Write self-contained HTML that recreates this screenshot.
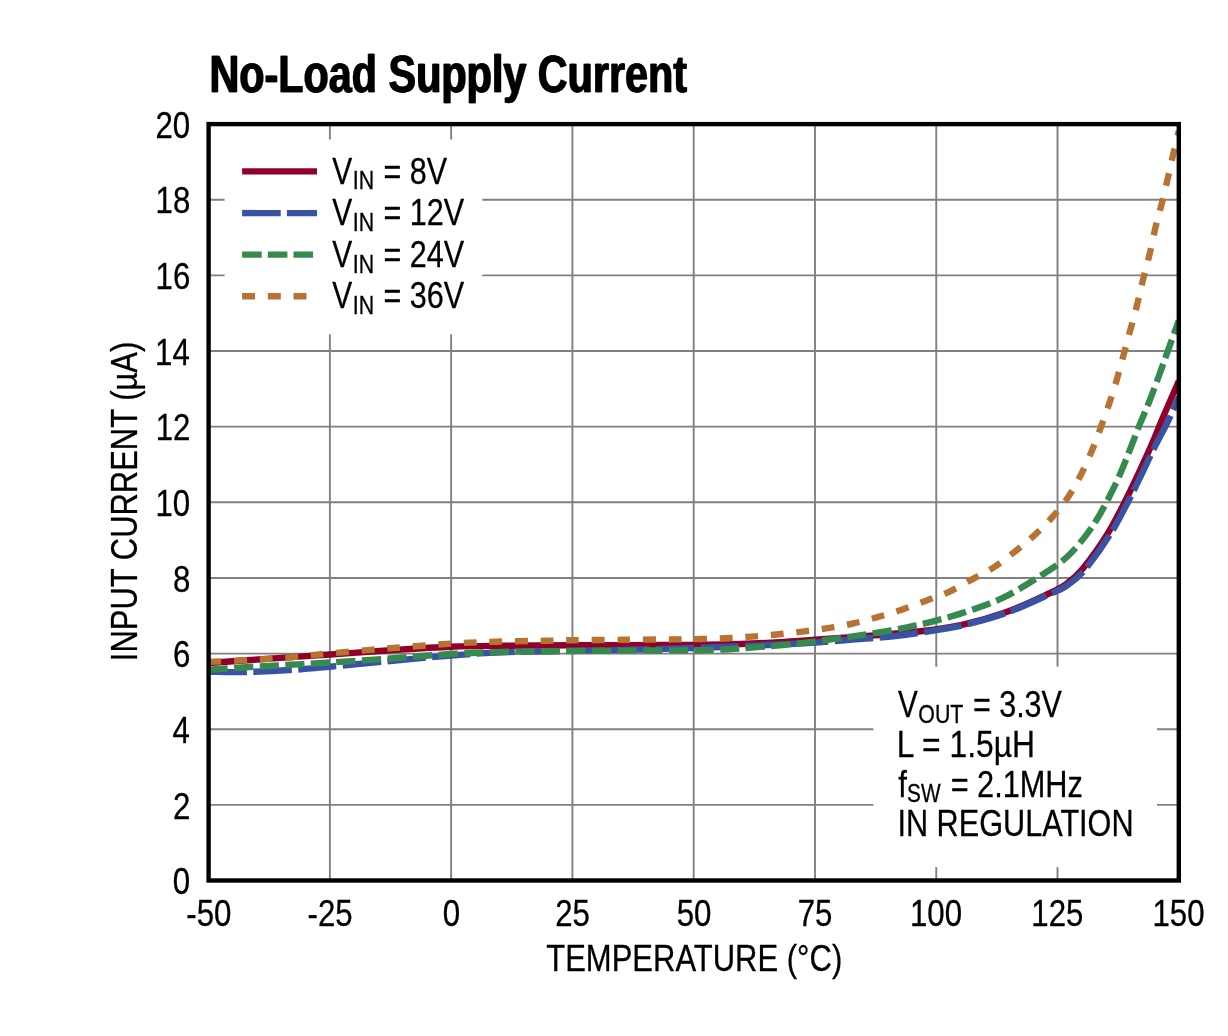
<!DOCTYPE html>
<html><head><meta charset="utf-8"><title>No-Load Supply Current</title>
<style>
html,body{margin:0;padding:0;background:#fff;}
body{width:1228px;height:1036px;overflow:hidden;font-family:"Liberation Sans",sans-serif;}
svg{display:block;will-change:transform;}
text{white-space:pre;}
</style></head><body>
<svg width="1228" height="1036" viewBox="0 0 1228 1036">
<rect width="1228" height="1036" fill="#fff"/>
<g stroke="#808080" stroke-width="1.9" fill="none">
<line x1="329.88" y1="124.1" x2="329.88" y2="880.5"/>
<line x1="451.15" y1="124.1" x2="451.15" y2="880.5"/>
<line x1="572.42" y1="124.1" x2="572.42" y2="880.5"/>
<line x1="693.70" y1="124.1" x2="693.70" y2="880.5"/>
<line x1="814.98" y1="124.1" x2="814.98" y2="880.5"/>
<line x1="936.25" y1="124.1" x2="936.25" y2="880.5"/>
<line x1="1057.52" y1="124.1" x2="1057.52" y2="880.5"/>
<line x1="208.6" y1="199.74" x2="1178.8" y2="199.74"/>
<line x1="208.6" y1="275.38" x2="1178.8" y2="275.38"/>
<line x1="208.6" y1="351.02" x2="1178.8" y2="351.02"/>
<line x1="208.6" y1="426.66" x2="1178.8" y2="426.66"/>
<line x1="208.6" y1="502.30" x2="1178.8" y2="502.30"/>
<line x1="208.6" y1="577.94" x2="1178.8" y2="577.94"/>
<line x1="208.6" y1="653.58" x2="1178.8" y2="653.58"/>
<line x1="208.6" y1="729.22" x2="1178.8" y2="729.22"/>
<line x1="208.6" y1="804.86" x2="1178.8" y2="804.86"/>
</g>
<clipPath id="cp"><rect x="208.6" y="124.1" width="970.1999999999999" height="756.4"/></clipPath>
<g clip-path="url(#cp)" fill="none" stroke-width="6.4">
<path d="M208.6,663.0 C218.8,662.3 249.8,660.0 270.0,658.6 C290.2,657.2 310.0,655.9 330.0,654.5 C350.0,653.1 369.8,651.6 390.0,650.3 C410.2,649.0 432.4,647.5 451.2,646.8 C470.0,646.0 482.8,646.0 503.0,645.8 C523.2,645.5 551.2,645.4 572.4,645.3 C593.6,645.2 609.8,645.2 630.0,645.1 C650.2,645.0 675.2,645.1 693.7,644.9 C712.2,644.7 726.4,644.5 740.8,644.0 C755.2,643.5 767.6,642.9 780.0,642.2 C792.4,641.5 799.3,640.9 815.0,639.8 C830.7,638.7 856.6,636.8 874.2,635.4 C891.8,634.0 905.8,633.1 920.8,631.3 C935.8,629.4 949.7,627.5 964.0,624.3 C978.3,621.1 992.5,617.0 1006.5,612.0 C1020.5,607.0 1038.0,598.6 1047.9,594.0 C1057.8,589.4 1060.1,588.6 1065.9,584.4 C1071.7,580.1 1075.8,577.2 1082.9,568.5 C1090.0,559.8 1100.6,545.1 1108.4,532.4 C1116.2,519.6 1122.6,506.3 1129.7,492.0 C1136.8,477.7 1145.6,458.3 1150.9,446.4 C1156.2,434.5 1156.8,431.7 1161.5,420.8 C1166.2,409.9 1175.9,387.6 1178.8,381.0" stroke="#900029"/>
<path d="M208.6,671.8 C214.7,671.8 231.4,672.3 245.0,672.0 C258.6,671.7 275.8,670.9 290.0,670.0 C304.2,669.1 313.3,668.2 330.0,666.7 C346.7,665.2 369.8,662.9 390.0,661.0 C410.2,659.1 432.3,657.0 451.2,655.5 C470.1,654.0 483.3,653.1 503.5,652.3 C523.7,651.5 549.6,651.3 572.4,650.8 C595.1,650.3 619.8,650.0 640.0,649.5 C660.2,649.0 678.3,648.5 693.7,648.0 C709.1,647.5 717.9,647.2 732.3,646.6 C746.7,646.0 766.2,645.2 780.0,644.5 C793.8,643.8 802.5,643.5 815.0,642.6 C827.5,641.8 841.7,640.5 855.1,639.4 C868.5,638.3 882.3,637.5 895.4,636.0 C908.5,634.5 922.1,632.4 933.5,630.6 C944.9,628.8 951.8,628.0 964.0,625.0 C976.2,622.0 992.5,617.8 1006.5,612.8 C1020.5,607.8 1037.8,599.5 1047.9,595.0 C1058.0,590.5 1060.8,589.8 1067.0,585.5 C1073.2,581.2 1077.7,578.2 1085.0,569.5 C1092.3,560.8 1103.0,545.9 1111.0,533.0 C1119.0,520.1 1125.7,506.4 1133.0,492.0 C1140.3,477.6 1149.4,457.7 1155.0,446.4 C1160.6,435.1 1162.6,432.4 1166.6,424.2 C1170.6,416.0 1176.8,401.5 1178.8,397.0" stroke="#3953A4" stroke-dasharray="38.4 6.4"/>
<path d="M208.6,669.7 C215.5,669.2 236.4,667.8 250.0,667.0 C263.6,666.2 276.7,665.5 290.0,664.8 C303.3,664.0 313.3,663.5 330.0,662.5 C346.7,661.5 369.8,659.9 390.0,658.5 C410.2,657.1 432.3,655.1 451.2,654.0 C470.1,652.9 487.0,652.4 503.5,651.9 C520.0,651.4 538.5,651.4 550.0,651.2 C561.5,651.1 559.1,651.1 572.4,651.0 C585.7,650.9 609.8,650.7 630.0,650.6 C650.2,650.5 677.2,650.4 693.7,650.2 C710.2,650.0 719.1,649.8 729.2,649.3 C739.4,648.8 746.1,648.1 754.6,647.4 C763.1,646.7 771.5,646.1 780.0,645.3 C788.5,644.5 796.9,643.6 805.4,642.6 C813.9,641.6 822.3,640.5 830.8,639.4 C839.3,638.3 847.7,637.0 856.2,635.8 C864.7,634.6 873.1,633.4 881.6,632.0 C890.1,630.6 898.7,629.0 907.0,627.3 C915.3,625.6 922.2,624.2 931.4,621.8 C940.5,619.4 950.1,617.0 961.9,613.1 C973.7,609.2 989.1,604.4 1002.2,598.2 C1015.3,592.0 1029.8,582.6 1040.4,575.9 C1051.0,569.2 1058.5,564.4 1065.9,557.9 C1073.3,551.4 1079.3,543.9 1085.0,536.6 C1090.7,529.3 1094.9,522.8 1099.9,514.3 C1104.9,505.8 1110.5,494.5 1114.8,485.7 C1119.0,476.9 1121.5,470.9 1125.4,461.2 C1129.4,451.5 1134.5,437.7 1138.5,427.6 C1142.5,417.5 1146.2,409.5 1149.7,400.5 C1153.2,391.5 1156.7,381.9 1159.8,373.5 C1162.9,365.1 1165.0,358.7 1168.2,349.9 C1171.4,341.1 1177.0,325.4 1178.8,320.5" stroke="#378A4F" stroke-dasharray="19.2 6.4"/>
<path d="M208.6,661.9 C215.5,661.6 236.4,660.8 250.0,660.0 C263.6,659.2 276.7,658.5 290.0,657.4 C303.3,656.3 313.3,654.9 330.0,653.4 C346.7,651.9 369.8,649.9 390.0,648.3 C410.2,646.7 433.5,644.7 451.2,643.6 C468.9,642.5 480.2,642.2 496.1,641.7 C512.1,641.2 534.2,641.0 546.9,640.7 C559.6,640.5 559.5,640.4 572.4,640.2 C585.3,640.1 607.1,639.9 624.2,639.8 C641.3,639.7 662.3,639.5 675.0,639.4 C687.7,639.3 692.1,639.2 700.6,639.0 C709.1,638.8 717.5,638.7 726.0,638.3 C734.5,637.9 742.9,637.2 751.4,636.6 C759.9,636.0 768.3,635.3 776.8,634.5 C785.3,633.7 793.7,632.6 802.2,631.6 C810.7,630.6 819.1,629.6 827.6,628.2 C836.1,626.9 844.7,625.3 853.0,623.5 C861.3,621.7 869.3,619.5 877.4,617.2 C885.5,614.9 893.6,612.5 901.7,609.8 C909.8,607.0 918.2,603.7 926.1,600.7 C934.0,597.7 941.4,595.4 949.1,591.8 C956.8,588.2 965.1,583.2 972.5,579.1 C979.9,575.0 986.6,572.0 993.7,567.4 C1000.8,562.8 1008.3,556.8 1015.0,551.5 C1021.7,546.2 1027.8,541.3 1034.0,535.6 C1040.2,529.9 1046.3,523.9 1052.0,517.5 C1057.7,511.1 1063.2,504.4 1068.0,497.3 C1072.8,490.2 1076.8,482.8 1080.8,475.0 C1084.8,467.2 1088.7,458.3 1092.0,450.4 C1095.3,442.5 1097.9,435.4 1100.7,427.6 C1103.5,419.9 1106.4,411.8 1109.1,403.9 C1111.8,396.0 1114.2,388.5 1116.6,380.3 C1119.0,372.1 1121.3,363.3 1123.6,354.9 C1125.9,346.4 1128.1,338.0 1130.4,329.6 C1132.7,321.2 1135.1,312.8 1137.2,304.3 C1139.3,295.9 1141.1,287.3 1143.2,278.9 C1145.3,270.4 1147.6,262.3 1149.7,253.6 C1151.8,244.9 1153.7,234.8 1155.7,226.6 C1157.7,218.4 1159.5,212.5 1161.5,204.6 C1163.5,196.7 1165.6,187.8 1167.6,179.3 C1169.6,170.9 1171.4,162.0 1173.3,153.9 C1175.2,145.8 1177.9,134.8 1178.8,131.0" stroke="#B87333" stroke-dasharray="12.8 12.8"/>
</g>
<rect x="224.6" y="139.5" width="257.7" height="194.8" fill="#fff"/>
<rect x="873.4" y="666.7" width="283.6" height="200.4" fill="#fff"/>
<rect x="208.6" y="124.1" width="970.20" height="756.40" fill="none" stroke="#000" stroke-width="4.4"/>
<g fill="none" stroke-width="6.4">
<line x1="242.1" y1="171.4" x2="317" y2="171.4" stroke="#900029"/>
<line x1="242.1" y1="213.1" x2="317" y2="213.1" stroke="#3953A4" stroke-dasharray="38.6 6.2"/>
<line x1="242.1" y1="254.6" x2="317" y2="254.6" stroke="#378A4F" stroke-dasharray="19.6 6.1"/>
<line x1="242.1" y1="296.2" x2="317" y2="296.2" stroke="#B87333" stroke-dasharray="13 12.7"/>
</g>
<g font-family="&quot;Liberation Sans&quot;, sans-serif" fill="#000" stroke="#000" stroke-width="0.3" stroke-linejoin="round">
<text transform="translate(208.91,91.90) scale(0.7906,1)" font-size="52.3" font-weight="bold">No-Load Supply Current</text>
<text transform="translate(210.01,91.90) scale(0.7906,1)" font-size="52.3" font-weight="bold">No-Load Supply Current</text>
<text transform="translate(155.41,137.80) scale(0.8250,1)" font-size="37.8">20</text>
<text transform="translate(155.57,213.44) scale(0.8250,1)" font-size="37.8">18</text>
<text transform="translate(155.57,289.08) scale(0.8250,1)" font-size="37.8">16</text>
<text transform="translate(155.07,364.72) scale(0.8250,1)" font-size="37.8">14</text>
<text transform="translate(155.74,440.36) scale(0.8250,1)" font-size="37.8">12</text>
<text transform="translate(155.41,516.00) scale(0.8250,1)" font-size="37.8">10</text>
<text transform="translate(172.90,591.64) scale(0.8250,1)" font-size="37.8">8</text>
<text transform="translate(172.90,667.28) scale(0.8250,1)" font-size="37.8">6</text>
<text transform="translate(172.40,742.92) scale(0.8250,1)" font-size="37.8">4</text>
<text transform="translate(173.06,818.56) scale(0.8250,1)" font-size="37.8">2</text>
<text transform="translate(172.73,894.20) scale(0.8250,1)" font-size="37.8">0</text>
<text transform="translate(186.30,926.00) scale(0.8250,1)" font-size="37.8">-50</text>
<text transform="translate(307.61,926.00) scale(0.8250,1)" font-size="37.8">-25</text>
<text transform="translate(442.79,926.00) scale(0.8250,1)" font-size="37.8">0</text>
<text transform="translate(555.23,926.00) scale(0.8250,1)" font-size="37.8">25</text>
<text transform="translate(676.63,926.00) scale(0.8250,1)" font-size="37.8">50</text>
<text transform="translate(797.78,926.00) scale(0.8250,1)" font-size="37.8">75</text>
<text transform="translate(909.99,926.00) scale(0.8250,1)" font-size="37.8">100</text>
<text transform="translate(1031.30,926.00) scale(0.8250,1)" font-size="37.8">125</text>
<text transform="translate(1152.53,926.00) scale(0.8250,1)" font-size="37.8">150</text>
<text transform="translate(546.24,970.80) scale(0.8203,1)" font-size="37.8">TEMPERATURE (°C)</text>
<text transform="translate(137.30,658.40) rotate(-90) scale(0.8194,1)" x="-3.40" font-size="37.8">INPUT CURRENT (µA)</text>
<text transform="translate(332.22,183.90) scale(0.7920,1)" font-size="37.8">V</text>
<text transform="translate(352.75,189.40) scale(0.8119,1)" font-size="26.3">IN</text>
<text transform="translate(383.45,183.90) scale(0.8062,1)" font-size="37.8">= 8V</text>
<text transform="translate(332.22,225.40) scale(0.7920,1)" font-size="37.8">V</text>
<text transform="translate(352.75,230.90) scale(0.8119,1)" font-size="26.3">IN</text>
<text transform="translate(383.45,225.40) scale(0.8080,1)" font-size="37.8">= 12V</text>
<text transform="translate(332.22,267.00) scale(0.7920,1)" font-size="37.8">V</text>
<text transform="translate(352.75,272.50) scale(0.8119,1)" font-size="26.3">IN</text>
<text transform="translate(383.45,267.00) scale(0.8080,1)" font-size="37.8">= 24V</text>
<text transform="translate(332.22,308.40) scale(0.7920,1)" font-size="37.8">V</text>
<text transform="translate(352.75,313.90) scale(0.8119,1)" font-size="26.3">IN</text>
<text transform="translate(383.45,308.40) scale(0.8080,1)" font-size="37.8">= 36V</text>
<text transform="translate(898.02,717.30) scale(0.7840,1)" font-size="37.8">V</text>
<text transform="translate(918.33,723.00) scale(0.8123,1)" font-size="26.3">OUT</text>
<text transform="translate(972.95,717.30) scale(0.8063,1)" font-size="37.8">= 3.3V</text>
<text transform="translate(896.79,756.90) scale(0.8413,1)" font-size="37.8">L = 1.5µH</text>
<text transform="translate(898.19,796.60) scale(0.8218,1)" font-size="37.8">f</text>
<text transform="translate(907.03,802.10) scale(0.7913,1)" font-size="26.3">SW</text>
<text transform="translate(950.64,796.60) scale(0.8122,1)" font-size="37.8">= 2.1MHz</text>
<text transform="translate(897.44,836.30) scale(0.8111,1)" font-size="37.8">IN REGULATION</text>
</g>
</svg>
</body></html>
